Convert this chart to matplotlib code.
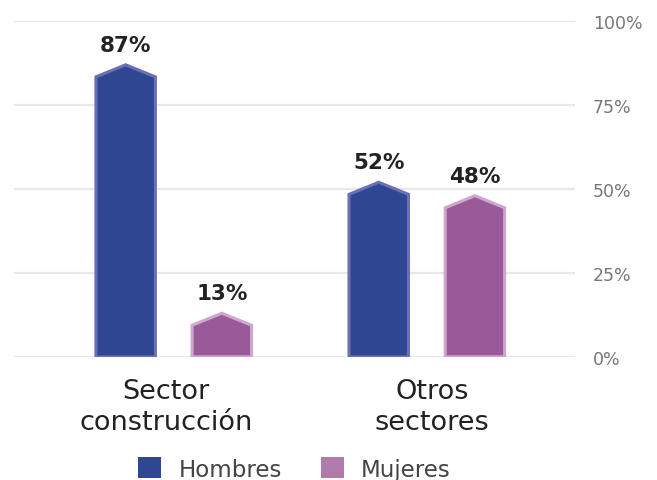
import matplotlib
matplotlib.use("Agg")
import matplotlib.pyplot as plt
from matplotlib.patches import Polygon, Patch

plt.rcParams['font.family'] = ['DejaVu Sans']

categories = ["Sector\nconstrucción", "Otros\nsectores"]
series = ["Hombres", "Mujeres"]
values = {"Hombres": [87, 52], "Mujeres": [13, 48]}
ticks = [0, 25, 50, 75, 100]
tick_labels = ["0%", "25%", "50%", "75%", "100%"]

fill = {"Hombres": "#2f4693", "Mujeres": "#9a5a9a"}
edge = {"Hombres": "#6b6fb8", "Mujeres": "#cfa6cf"}
legend_fill = {"Hombres": "#2f4693", "Mujeres": "#b07aab"}

fig = plt.figure(figsize=(6.57, 4.81), dpi=100)
ax = fig.add_axes([0.021, 0.256, 0.854, 0.698])

offsets = {"Hombres": -0.19, "Mujeres": 0.19}
width = 0.235
shoulder = 3.6  # how far the point sits above the flat sides

for name in series:
    for i, v in enumerate(values[name]):
        xc = i + offsets[name]
        x0, x1 = xc - width / 2, xc + width / 2
        pts = [(x0, 0), (x0, v - shoulder), (xc, v), (x1, v - shoulder), (x1, 0)]
        ax.add_patch(Polygon(pts, closed=True, facecolor=fill[name],
                             edgecolor=edge[name], linewidth=2.2, zorder=3,
                             joinstyle="miter"))
        ax.text(xc, v + 3, f"{v}%", ha="center", va="bottom", fontsize=15.5,
                fontweight="bold", color="#222222")

ax.set_xlim(-0.632, 1.585)
ax.set_ylim(0, 100)

ax.set_yticks(ticks)
ax.set_yticklabels(tick_labels)
ax.yaxis.tick_right()
ax.tick_params(axis="y", length=0, pad=13, labelsize=12.5, labelcolor="#777777")
for lbl in ax.get_yticklabels():
    lbl.set_horizontalalignment("left")
ax.grid(axis="y", color="#e8e8e8", linewidth=1.6, zorder=0)

ax.set_xticks([-0.03, 1.02])
ax.set_xticklabels(categories, fontsize=19.5, color="#222222", linespacing=1.25)
ax.tick_params(axis="x", length=0, pad=15)

for s in ax.spines.values():
    s.set_visible(False)

handles = [Patch(facecolor=legend_fill[n], edgecolor="none", label=n) for n in series]
fig.legend(handles=handles, loc="lower center", bbox_to_anchor=(0.448, -0.044),
           ncol=2, frameon=False, fontsize=16.5, handlelength=1.0, handleheight=1.0,
           handletextpad=0.75, columnspacing=1.7, labelcolor="#444444")

fig.savefig("out.png", dpi=100)
